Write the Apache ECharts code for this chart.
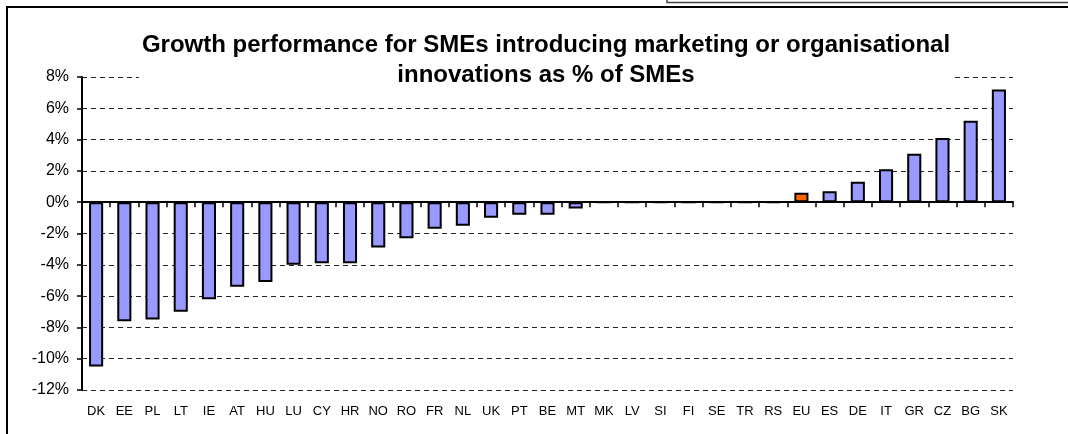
<!DOCTYPE html>
<html>
<head>
<meta charset="utf-8">
<script src="https://cdn.jsdelivr.net/npm/echarts@6/dist/echarts.min.js"></script>
<style>
  html, body { margin: 0; padding: 0; background: #fff; }
  #chart { width: 1068px; height: 434px; }
</style>
</head>
<body>
<div id="chart"></div>
<script>
// country codes, sorted as in the source chart
const categories = ["DK", "EE", "PL", "LT", "IE", "AT", "HU", "LU", "CY", "HR", "NO", "RO", "FR", "NL", "UK", "PT", "BE", "MT", "MK", "LV", "SI", "FI", "SE", "TR", "RS", "EU", "ES", "DE", "IT", "GR", "CZ", "BG", "SK"];
// growth performance, % of SMEs
const values = [-10.5, -7.6, -7.5, -7.0, -6.2, -5.4, -5.1, -4.0, -3.9, -3.9, -2.9, -2.3, -1.7, -1.5, -1.0, -0.8, -0.8, -0.4, 0, 0, 0, 0, 0, 0, 0, 0.6, 0.7, 1.3, 2.1, 3.1, 4.1, 5.2, 7.2];
const yTicks = [-12, -10, -8, -6, -4, -2, 0, 2, 4, 6, 8];
const highlight = "EU";

const colors = {
  bar: "#9999ff",
  highlight: "#ff6600",
  text: "#000000",
  grid: "#222222",
};

const chart = echarts.init(document.getElementById("chart"));

const barData = values.map((v, i) => ({
  value: v,
  itemStyle: categories[i] === highlight ? { color: colors.highlight } : undefined,
}));

const option = {
  animation: false,
  backgroundColor: "#fff",
  title: {
    text: "Growth performance for SMEs introducing marketing or organisational\ninnovations as % of SMEs",
    left: 543,
    top: 28,
    textAlign: "center",
    backgroundColor: "#fff",
    padding: [2, 3],
    textStyle: {
      fontFamily: "Liberation Sans",
      fontSize: 24,
      fontWeight: "bold",
      lineHeight: 30,
      color: colors.text,
    },
  },
  grid: {
    left: 82,
    right: 55,
    top: 77,
    bottom: 44,
    containLabel: false,
  },
  xAxis: [
    {
      type: "category",
      data: categories,
      axisLine: { onZero: true, lineStyle: { color: "#000", width: 2 } },
      axisTick: { show: true, length: 5, lineStyle: { color: "#000", width: 1.5 } },
      axisLabel: { show: false },
      splitLine: { show: false },
    },
    {
      type: "category",
      data: categories,
      position: "bottom",
      axisLine: { show: false, onZero: false },
      axisTick: { show: false },
      axisLabel: {
        interval: 0,
        margin: 15,
        color: colors.text,
        fontFamily: "Liberation Sans",
        fontSize: 13,
      },
      splitLine: { show: false },
    },
  ],
  yAxis: {
    type: "value",
    min: yTicks[0],
    max: yTicks[yTicks.length - 1],
    interval: yTicks[1] - yTicks[0],
    axisLine: { show: true, lineStyle: { color: "#000", width: 2 } },
    axisTick: { show: true, length: 5, lineStyle: { color: "#000", width: 1.5 } },
    axisLabel: {
      margin: 13,
      color: colors.text,
      fontFamily: "Liberation Sans",
      fontSize: 16,
      formatter: "{value}%",
    },
    splitLine: {
      show: true,
      lineStyle: { color: colors.grid, width: 1.2, type: [5, 4] },
    },
  },
  series: [
    {
      type: "bar",
      xAxisIndex: 0,
      data: barData,
      barWidth: "50%",
      itemStyle: {
        color: colors.bar,
        borderColor: "#000",
        borderWidth: 2,
      },
    },
  ],
  graphic: [
    {
      type: "rect",
      shape: { x: 7, y: 7, width: 1100, height: 500 },
      style: { fill: "none", stroke: "#000", lineWidth: 2 },
      z: 100,
    },
    {
      type: "rect",
      shape: { x: 667, y: -10, width: 450, height: 12.5 },
      style: { fill: "#fff", stroke: "#444", lineWidth: 1.5 },
      z: 100,
    },
  ],
};

chart.setOption(option);
</script>
</body>
</html>
